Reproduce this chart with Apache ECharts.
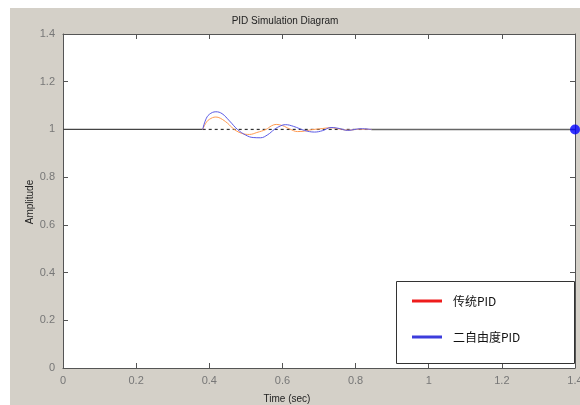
<!DOCTYPE html>
<html><head><meta charset="utf-8">
<script src="https://cdn.jsdelivr.net/npm/echarts@6/dist/echarts.min.js"></script>
<style>html,body{margin:0;padding:0;background:#fff;overflow:hidden}#c{width:580px;height:405px}</style>
</head><body><div id="c"></div>
<script>
const titleText = 'PID Simulation Diagram';
const xName = 'Time (sec)';
const yName = 'Amplitude';
const xTicks = [0, 0.2, 0.4, 0.6, 0.8, 1, 1.2, 1.4];
const yTicks = [0, 0.2, 0.4, 0.6, 0.8, 1, 1.2, 1.4];
const seriesNames = ['传统PID', '二自由度PID'];

const tradT = [0.382, 0.39, 0.40, 0.418, 0.43, 0.45, 0.468, 0.49, 0.51, 0.53, 0.555, 0.57, 0.583, 0.60, 0.62, 0.641, 0.66, 0.68, 0.70, 0.733, 0.755, 0.78, 0.81, 0.843];
const tradY = [1.0, 1.025, 1.042, 1.052, 1.047, 1.026, 1.0, 0.983, 0.979, 0.987, 1.0, 1.015, 1.021, 1.016, 1.002, 0.991, 0.993, 0.999, 1.002, 1.007, 1.002, 0.997, 1.001, 1.0];

const twoT = [0.382, 0.39, 0.40, 0.418, 0.435, 0.455, 0.477, 0.50, 0.52, 0.54, 0.56, 0.578, 0.595, 0.608, 0.63, 0.66, 0.688, 0.71, 0.733, 0.755, 0.778, 0.815, 0.843];
const twoY = [1.0, 1.04, 1.063, 1.074, 1.066, 1.036, 1.0, 0.976, 0.966, 0.965, 0.978, 1.0, 1.015, 1.02, 1.013, 0.996, 0.989, 0.995, 1.008, 1.004, 0.996, 1.003, 1.0];

const refBefore = [[0, 1], [0.382, 1]];
const refDashed = [[0.382, 1], [0.843, 1]];
const refAfter = [[0.843, 1], [1.4, 1]];
const endPoint = [[1.4, 1]];

const zip = (a, b) => a.map((v, i) => [v, b[i]]);
const font = 'Liberation Sans, Arial, sans-serif';

const chart = echarts.init(document.getElementById('c'));
const axisCommon = {
  type: 'value', min: 0, max: 1.4, interval: 0.2,
  axisLine: {show: true, onZero: false, lineStyle: {color: '#555', width: 1}},
  axisTick: {show: true, inside: true, length: 5, lineStyle: {color: '#555'}},
  splitLine: {show: false}
};
chart.setOption({
  animation: false,
  backgroundColor: '#fff',
  graphic: [
    {type: 'rect', z: -10, shape: {x: 10, y: 8, width: 570, height: 397}, style: {fill: '#d4d0c8'}},
    {type: 'rect', z: -9, shape: {x: 63, y: 34, width: 512, height: 334}, style: {fill: '#fff'}},
    {type: 'rect', z: 5, shape: {x: 396.5, y: 281.5, width: 178, height: 82}, style: {fill: '#fff', stroke: '#333', lineWidth: 1}},
    {type: 'text', z: 6, x: 285, y: 21, style: {text: titleText, fontFamily: font, fontSize: 10, fill: '#222', align: 'center', verticalAlign: 'middle'}},
    {type: 'text', z: 6, x: 287, y: 399, style: {text: xName, fontFamily: font, fontSize: 10, fill: '#222', align: 'center', verticalAlign: 'middle'}},
    {type: 'text', z: 6, x: 30, y: 202, rotation: Math.PI / 2, style: {text: yName, fontFamily: font, fontSize: 10, fill: '#222', align: 'center', verticalAlign: 'middle'}}
  ],
  grid: {left: 63, right: 5, top: 34, bottom: 37, containLabel: false, outerBoundsMode: 'none'},
  legend: {
    orient: 'vertical', left: 407, top: 289, z: 10,
    data: [
      {name: seriesNames[0], itemStyle: {color: '#ee1c1c'}},
      {name: seriesNames[1], itemStyle: {color: '#3c3cdc'}}
    ],
    icon: 'rect', itemWidth: 30, itemHeight: 3, itemGap: 22,
    textStyle: {fontFamily: 'Noto Sans CJK SC, sans-serif', fontSize: 12, color: '#111', padding: [0, 0, 0, 6], lineHeight: 14},
    selectedMode: false
  },
  xAxis: [
    Object.assign({}, axisCommon, {position: 'bottom',
      axisLabel: {color: '#777', fontFamily: font, fontSize: 11, margin: 7,
        formatter: v => String(+v.toFixed(1))}}),
    Object.assign({}, axisCommon, {position: 'top', axisLabel: {show: false}})
  ],
  yAxis: [
    Object.assign({}, axisCommon, {position: 'left',
      axisLabel: {color: '#777', fontFamily: font, fontSize: 11, margin: 8,
        formatter: v => String(+v.toFixed(1))}}),
    Object.assign({}, axisCommon, {position: 'right', axisLabel: {show: false}})
  ],
  series: [
    {type: 'line', data: refBefore, symbol: 'none', lineStyle: {color: '#444', width: 1.2}, silent: true, z: 1},
    {type: 'line', data: refDashed, symbol: 'none', lineStyle: {color: '#333', width: 1.2, type: [3, 3]}, silent: true, z: 1},
    {type: 'line', data: refAfter, symbol: 'none', lineStyle: {color: '#666', width: 1.4}, silent: true, z: 1},
    {name: seriesNames[0], type: 'line', data: zip(tradT, tradY), symbol: 'none', smooth: 0.4,
     lineStyle: {color: '#ff9a50', width: 1}, itemStyle: {color: '#ff9a50'}, z: 2},
    {name: seriesNames[1], type: 'line', data: zip(twoT, twoY), symbol: 'none', smooth: 0.4,
     lineStyle: {color: '#5a5ae6', width: 1}, itemStyle: {color: '#5a5ae6'}, z: 3},
    {type: 'scatter', data: endPoint, symbolSize: 10, itemStyle: {color: '#0000ff'}, silent: true, z: 4}
  ]
});
</script></body></html>
